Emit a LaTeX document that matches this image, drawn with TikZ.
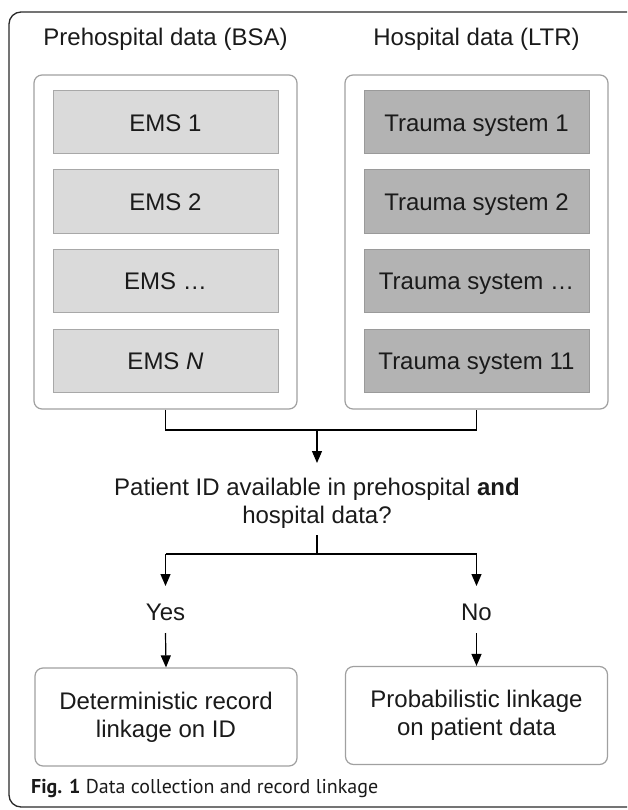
\documentclass[tikz,border=0pt]{standalone}
\usepackage{fontspec}
\setmainfont{Liberation Sans}
\newfontfamily\capfont{PT Sans}
\usetikzlibrary{arrows.meta}
\definecolor{txt}{HTML}{1A1A1A}
\definecolor{contline}{HTML}{A0A0A0}
\definecolor{lfill}{HTML}{DADADA}
\definecolor{lline}{HTML}{A8A8A8}
\definecolor{rfill}{HTML}{B3B3B3}
\definecolor{rline}{HTML}{9A9A9A}
\definecolor{frameline}{HTML}{2A2A2A}
\begin{document}
\begin{tikzpicture}[x=1pt,y=-1pt,
  every node/.style={font=\fontsize{24}{28}\selectfont, inner sep=0pt, text=txt},
  container/.style={draw=contline, line width=1.2pt, rounded corners=8pt, fill=white,
    minimum width=263pt, minimum height=334pt},
  emsbox/.style={draw=lline, line width=1pt, fill=lfill, minimum width=225pt,
    minimum height=63pt, text height=17.2pt, text depth=0pt},
  traumabox/.style={draw=rline, line width=1pt, fill=rfill, minimum width=225pt,
    minimum height=63pt, text height=17.2pt, text depth=0pt},
  resultbox/.style={draw=contline, line width=1.2pt, rounded corners=8pt, fill=white,
    minimum width=262pt, minimum height=98pt, align=center},
  conn/.style={line width=1.2pt, draw=black},
  arr/.style={conn, -{Triangle[length=12pt,width=10pt]}}
]
\useasboundingbox (0,0) rectangle (627,810);
\clip (0,0) rectangle (627,810);
% outer frame
\draw[frameline, line width=1.3pt, rounded corners=12pt] (9,12) rectangle (660,807);

% titles
\node[anchor=base] (tl) at (165.5,46) {Prehospital data (BSA)};
\node[anchor=base] (tr) at (476.5,46) {Hospital data (LTR)};

% containers
\node[container] (L) at (165.5,242) {};
\node[container] (R) at (476.5,242) {};

% inner boxes
\node[emsbox] (e1) at (165.5,122.5) {EMS 1};
\node[emsbox] (e2) at (165.5,201.5) {EMS 2};
\node[emsbox] (e3) at (165.5,280.5) {EMS …};
\node[emsbox] (e4) at (165.5,360.5) {EMS \textit{N}};
\node[traumabox] (t1) at (476.5,122.5) {Trauma system 1};
\node[traumabox] (t2) at (476.5,201.5) {Trauma system 2};
\node[traumabox] (t3) at (476.5,280.5) {Trauma system …};
\node[traumabox] (t4) at (476.5,360.5) {Trauma system 11};

% merge connector
\coordinate (jl) at (165.5,430);
\coordinate (jr) at (476.5,430);
\coordinate (jm) at (317,430);
\draw[conn] (L.south) -- (jl) -- (jr) -- (R.south);

% question (base anchor = baseline of last line)
\node[anchor=base, align=center] (q) at (317,523)
  {Patient ID available in prehospital \textbf{and}\\hospital data?};
\coordinate (qtop) at (317,463);
\coordinate (qbot) at (317,535);
\draw[arr] (jm) -- (qtop);

% split
\coordinate (sm) at (317,554);
\coordinate (sl) at (165.5,554);
\coordinate (sr) at (476.5,554);
\coordinate (yt) at (165.5,586);
\coordinate (nt) at (476.5,586);
\draw[conn] (qbot) -- (sm);
\draw[conn] (sl) -- (sr);
\draw[arr] (sl) -- (yt);
\draw[arr] (sr) -- (nt);

\node[anchor=base] (yes) at (165.5,620) {Yes};
\node[anchor=base] (no) at (476.5,620) {No};

% results
\node[resultbox] (det) at (166,717) {Deterministic record\\linkage on ID};
\node[resultbox] (prob) at (476.5,715.5) {Probabilistic linkage\\on patient data};
\coordinate (ys) at (165.5,633);
\coordinate (ns) at (476.5,633);
\draw[arr] (ys) -- (det.north);
\draw[arr] (ns) -- (prob.north);

% caption
\node[anchor=base west, font=\capfont\fontsize{20}{24}\selectfont] (cap) at (31,793)
  {\textbf{Fig. 1} Data collection and record linkage};
\end{tikzpicture}
\end{document}
